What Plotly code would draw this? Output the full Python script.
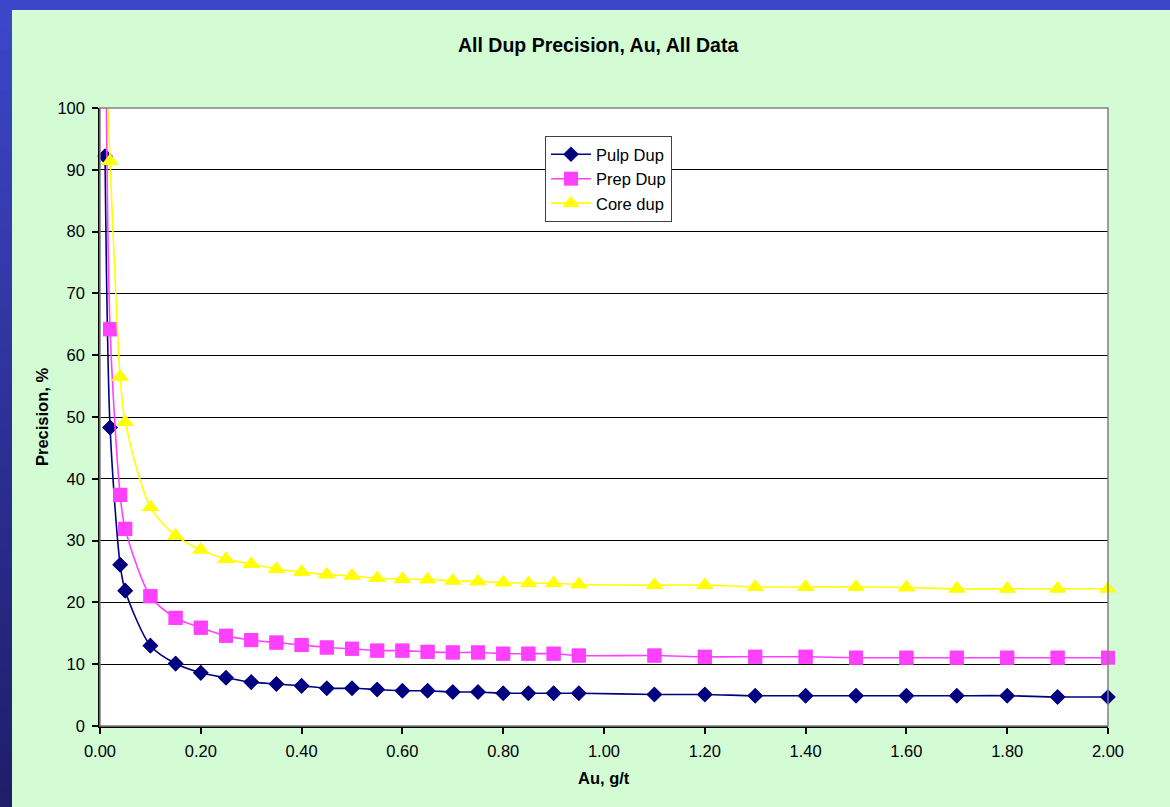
import plotly.graph_objects as go

# ---------------- data ----------------
au = [0.01, 0.02, 0.04, 0.05, 0.10, 0.15, 0.20, 0.25, 0.30, 0.35, 0.40, 0.45,
      0.50, 0.55, 0.60, 0.65, 0.70, 0.75, 0.80, 0.85, 0.90, 0.95,
      1.10, 1.20, 1.30, 1.40, 1.50, 1.60, 1.70, 1.80, 1.90, 2.00]

pulp_dup = [92.2, 48.3, 26.1, 21.9, 13.0, 10.1, 8.6, 7.8, 7.1, 6.8, 6.5, 6.1,
            6.1, 5.9, 5.7, 5.7, 5.5, 5.5, 5.3, 5.3, 5.3, 5.3,
            5.1, 5.1, 4.9, 4.9, 4.9, 4.9, 4.9, 4.9, 4.7, 4.7]

prep_dup = [130.0, 64.2, 37.4, 31.9, 21.0, 17.5, 15.9, 14.6, 13.9, 13.5, 13.1, 12.7,
            12.5, 12.2, 12.2, 12.0, 11.9, 11.9, 11.7, 11.7, 11.7, 11.4,
            11.4, 11.2, 11.2, 11.2, 11.05, 11.05, 11.05, 11.05, 11.05, 11.05]

core_dup = [113.0, 91.4, 56.5, 49.2, 35.4, 30.8, 28.5, 27.0, 26.2, 25.4, 24.9, 24.5,
            24.3, 23.9, 23.8, 23.7, 23.5, 23.4, 23.2, 23.1, 23.1, 22.9,
            22.8, 22.8, 22.5, 22.5, 22.5, 22.4, 22.2, 22.2, 22.2, 22.2]

series_names = ["Pulp Dup", "Prep Dup", "Core dup"]
y_ticks = [0, 10, 20, 30, 40, 50, 60, 70, 80, 90, 100]
x_ticks = [0.0, 0.2, 0.4, 0.6, 0.8, 1.0, 1.2, 1.4, 1.6, 1.8, 2.0]

title_text = "All Dup Precision, Au, All Data"
x_title = "Au, g/t"
y_title = "Precision, %"

# ---------------- styling ----------------
W, H = 1170, 807
ML, MR, MT, MB = 100, 62, 108, 81
PW, PH = W - ML - MR, H - MT - MB
FONT = "Liberation Sans, Arial, sans-serif"
GREEN = "#d4fcd4"
BLUE_TOP = (60, 70, 200)
BLUE_BOT = (30, 30, 105)

styles = [
    dict(color="#000080", symbol="diamond", size=12),
    dict(color="#ff40ff", symbol="square", size=14),
    dict(color="#ffff00", symbol="triangle-up", size=15),
]


def px_to_paper_x(px):
    return (px - ML) / PW


def px_to_paper_y(py):
    return (H - MB - py) / PH


fig = go.Figure()
Y_MAX = y_ticks[-1]
for i, (name, ys) in enumerate(zip(series_names, [pulp_dup, prep_dup, core_dup])):
    st = styles[i]
    fig.add_trace(go.Scatter(
        x=au, y=ys, name=name, mode="lines+markers",
        line=dict(color=st["color"], width=1.6, shape="spline", smoothing=0.8),
        marker=dict(color=st["color"], symbol=st["symbol"], size=st["size"],
                    line=dict(width=0)),
        legendgroup=name, cliponaxis=True,
    ))
    # unclipped markers for the in-range points (edge markers shown whole)
    xs_in = [x for x, y in zip(au, ys) if y <= Y_MAX]
    ys_in = [y for y in ys if y <= Y_MAX]
    fig.add_trace(go.Scatter(
        x=xs_in, y=ys_in, mode="markers", showlegend=False, hoverinfo="skip",
        marker=dict(color=st["color"], symbol=st["symbol"], size=st["size"],
                    line=dict(width=0)),
        legendgroup=name, cliponaxis=False,
    ))

shapes = []
# blue frame: top strip
shapes.append(dict(type="rect", xref="paper", yref="paper",
                   x0=px_to_paper_x(-5), x1=px_to_paper_x(W + 5),
                   y0=px_to_paper_y(10), y1=px_to_paper_y(-5),
                   fillcolor="rgb(%d,%d,%d)" % BLUE_TOP, line=dict(width=0),
                   layer="below"))
# blue frame: left strip with vertical gradient
N = 40
for k in range(N):
    t = k / (N - 1)
    c = tuple(int(round(BLUE_TOP[j] + (BLUE_BOT[j] - BLUE_TOP[j]) * t)) for j in range(3))
    y0p = 10 + (H - 10) * k / N
    y1p = 10 + (H - 10) * (k + 1) / N
    shapes.append(dict(type="rect", xref="paper", yref="paper",
                       x0=px_to_paper_x(-5), x1=px_to_paper_x(12),
                       y0=px_to_paper_y(y1p + 1), y1=px_to_paper_y(y0p),
                       fillcolor="rgb(%d,%d,%d)" % c, line=dict(width=0),
                       layer="below"))
# grey plot border (top/right)
shapes.append(dict(type="rect", xref="paper", yref="paper", x0=0, x1=1, y0=0, y1=1,
                   line=dict(color="#808080", width=1.5), layer="above"))

fig.update_layout(
    width=W, height=H, autosize=False,
    margin=dict(l=ML, r=MR, t=MT, b=MB, pad=0),
    paper_bgcolor=GREEN, plot_bgcolor="white",
    font=dict(family=FONT, size=16, color="black"),
    showlegend=True,
    legend=dict(x=px_to_paper_x(545), y=px_to_paper_y(136), xanchor="left", yanchor="top",
                bgcolor="white", bordercolor="#404040", borderwidth=1,
                font=dict(family=FONT, size=16.5, color="black"),
                traceorder="grouped", tracegroupgap=0, itemwidth=40),
    xaxis=dict(range=[0, 2], tickvals=x_ticks, tickformat=".2f",
               showgrid=False, zeroline=False,
               showline=True, linecolor="black", linewidth=1.5,
               ticks="outside", ticklen=6, tickcolor="black", tickwidth=1.5,
               tickfont=dict(family=FONT, size=16.5, color="black"),
               ticklabelstandoff=3),
    yaxis=dict(range=[0, 100], tickvals=y_ticks,
               showgrid=True, gridcolor="black", gridwidth=1.2, zeroline=False,
               showline=True, linecolor="black", linewidth=1.5,
               ticks="outside", ticklen=6, tickcolor="black", tickwidth=1.5,
               tickfont=dict(family=FONT, size=16.5, color="black"),
               ticklabelstandoff=4),
    shapes=shapes,
    annotations=[
        dict(text="<b>%s</b>" % title_text, xref="paper", yref="paper",
             x=px_to_paper_x(598), y=px_to_paper_y(45), showarrow=False,
             xanchor="center", yanchor="middle",
             font=dict(family=FONT, size=19.5, color="black")),
        dict(text="<b>%s</b>" % x_title, xref="paper", yref="paper",
             x=px_to_paper_x(604), y=px_to_paper_y(778), showarrow=False,
             xanchor="center", yanchor="middle",
             font=dict(family=FONT, size=16.5, color="black")),
        dict(text="<b>%s</b>" % y_title, xref="paper", yref="paper",
             x=px_to_paper_x(42), y=px_to_paper_y(417), showarrow=False,
             xanchor="center", yanchor="middle", textangle=-90,
             font=dict(family=FONT, size=16.5, color="black")),
    ],
)

fig.write_html("out.html", config={"displayModeBar": False},
               post_script="document.body.style.margin='0';")
